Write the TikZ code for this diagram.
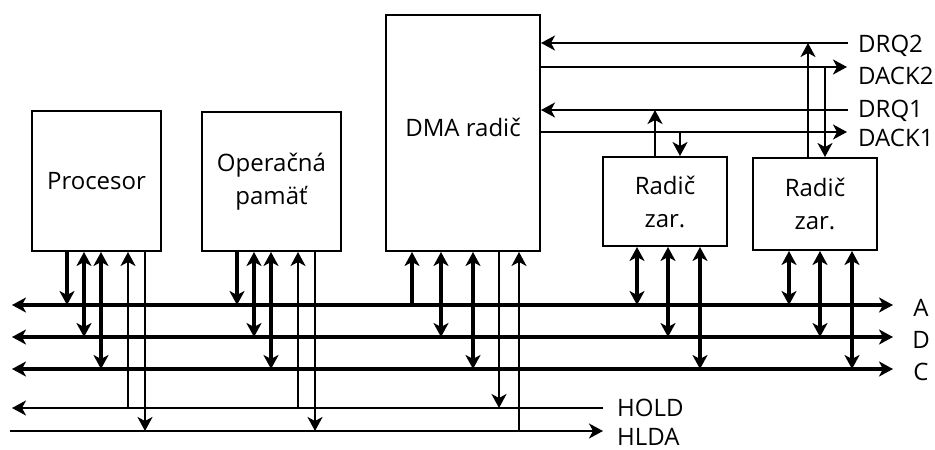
\documentclass[tikz,border=0pt]{standalone}
\usepackage{fontspec}
\setmainfont{Open Sans}
\usepackage{tikz}
\usetikzlibrary{arrows.meta}

\tikzset{
  blok/.style={draw,line width=2pt,align=center,inner sep=0pt},
  zber/.style={line width=4pt},
  sig/.style={line width=2pt},
  popis/.style={inner sep=0pt}
}

\begin{document}
\begin{tikzpicture}[x=1pt,y=-1pt,font=\fontsize{24}{33}\selectfont,
  >={Stealth[length=14pt,width=15pt,inset=4pt]}]
\useasboundingbox (0,0) rectangle (935,450);
% bloky
\node[blok,minimum width=129pt,minimum height=140pt] (proc) at (96.5,181) {Procesor};
\node[blok,minimum width=139pt,minimum height=139pt] (pam) at (271.5,181.5) {Operačná\\pamäť};
\node[blok,minimum width=154pt,minimum height=236pt,text depth=12pt] (dma) at (463,133) {DMA radič};
\node[blok,minimum width=124pt,minimum height=89pt] (rad1) at (665,201.5) {Radič\\zar.};
\node[blok,minimum width=124pt,minimum height=92pt] (rad2) at (815,204) {Radič\\zar.};
% zbernice
\coordinate (A0) at (12,305);  \coordinate (A1) at (893,305);
\coordinate (D0) at (12,337);  \coordinate (D1) at (893,337);
\coordinate (C0) at (12,369);  \coordinate (C1) at (893,369);
\coordinate (HO0) at (12,408); \coordinate (HO1) at (603,408);
\coordinate (HL0) at (10,431); \coordinate (HL1) at (603,431);
\draw[zber,<->] (A0)--(A1);
\draw[zber,<->] (D0)--(D1);
\draw[zber,<->] (C0)--(C1);
\draw[sig,<-] (HO0)--(HO1);
\draw[sig,->] (HL0)--(HL1);
\node[popis] (lA) at (921,308) {A};
\node[popis] (lD) at (921,340) {D};
\node[popis] (lC) at (921,372) {C};
\node[popis,anchor=west] (lhold) at (617,408) {HOLD};
\node[popis,anchor=west] (lhlda) at (617,437) {HLDA};
% procesor
\draw[zber,->] (67,0 |- proc.south)--(67,0 |- A0);
\draw[zber,<->] (84,0 |- proc.south)--(84,0 |- D0);
\draw[zber,<->] (101,0 |- proc.south)--(101,0 |- C0);
\draw[sig,->] (128,0 |- HO0)--(128,0 |- proc.south);
\draw[sig,->] (145,0 |- proc.south)--(145,0 |- HL0);
% pamat
\draw[zber,->] (237,0 |- pam.south)--(237,0 |- A0);
\draw[zber,<->] (254,0 |- pam.south)--(254,0 |- D0);
\draw[zber,<->] (271,0 |- pam.south)--(271,0 |- C0);
\draw[sig,->] (298,0 |- HO0)--(298,0 |- pam.south);
\draw[sig,->] (315,0 |- pam.south)--(315,0 |- HL0);
% DMA
\draw[zber,->] (412,0 |- A0)--(412,0 |- dma.south);
\draw[zber,<->] (441,0 |- dma.south)--(441,0 |- D0);
\draw[zber,<->] (473,0 |- dma.south)--(473,0 |- C0);
\draw[sig,->] (499,0 |- dma.south)--(499,0 |- HO0);
\draw[sig,->] (519,0 |- HL0)--(519,0 |- dma.south);
% radice zariadeni
\draw[zber,<->] (637,0 |- rad1.south)--(637,0 |- A0);
\draw[zber,<->] (668,0 |- rad1.south)--(668,0 |- D0);
\draw[zber,<->] (700,0 |- rad1.south)--(700,0 |- C0);
\draw[zber,<->] (789,0 |- rad2.south)--(789,0 |- A0);
\draw[zber,<->] (820,0 |- rad2.south)--(820,0 |- D0);
\draw[zber,<->] (852,0 |- rad2.south)--(852,0 |- C0);
% DRQ a DACK
\coordinate (drq2) at (848,43);
\coordinate (dack2) at (847,67);
\coordinate (drq1) at (848,110);
\coordinate (dack1) at (847,132);
\draw[sig,->] (drq2)--(drq2 -| dma.east);
\draw[sig,->] (dack2 -| dma.east)--(dack2);
\draw[sig,->] (drq1)--(drq1 -| dma.east);
\draw[sig,->] (dack1 -| dma.east)--(dack1);
\draw[sig,->] (655,0 |- rad1.north)--(655,0 |- drq1);
\draw[sig,->] (680,0 |- dack1)--(680,0 |- rad1.north);
\draw[sig,->] (808,0 |- rad2.north)--(808,0 |- drq2);
\draw[sig,->] (825,0 |- dack2)--(825,0 |- rad2.north);
\node[popis,anchor=west] (ldrq2) at (858,46) {DRQ2};
\node[popis,anchor=west] (ldack2) at (858,76) {DACK2};
\node[popis,anchor=west] (ldrq1) at (858,111) {DRQ1};
\node[popis,anchor=west] (ldack1) at (858,138) {DACK1};
\end{tikzpicture}
\end{document}
